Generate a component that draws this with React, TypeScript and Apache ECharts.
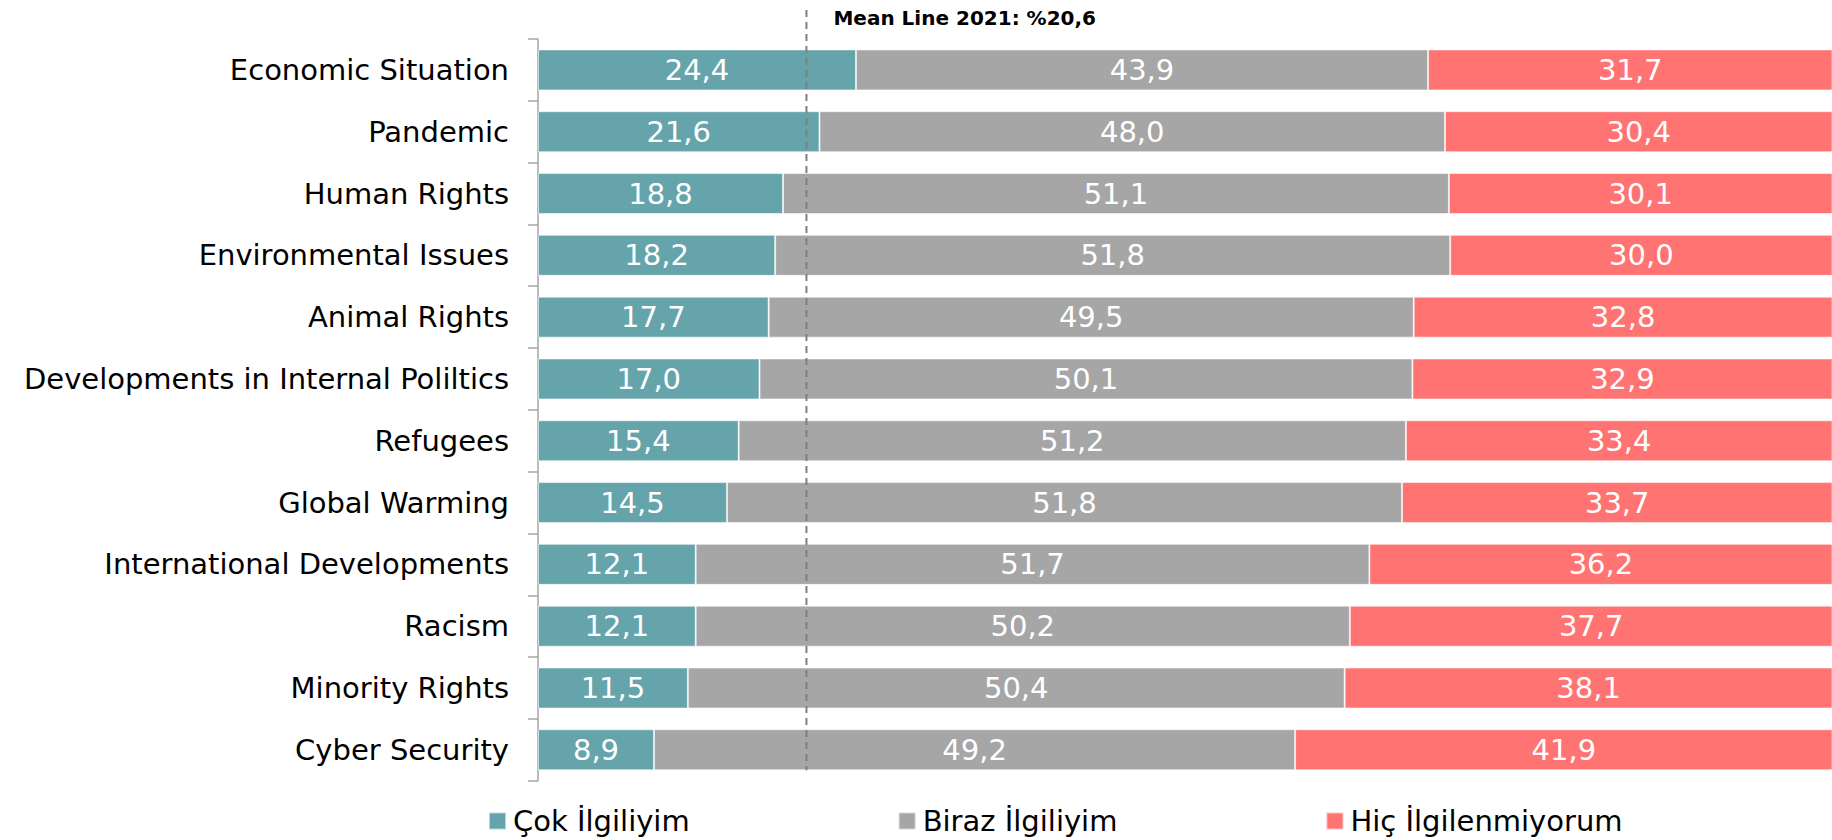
import React, { useEffect, useRef } from "react";
import * as echarts from "echarts";

const categories = [
  "Economic Situation",
  "Pandemic",
  "Human Rights",
  "Environmental Issues",
  "Animal Rights",
  "Developments in Internal Poliltics",
  "Refugees",
  "Global Warming",
  "International Developments",
  "Racism",
  "Minority Rights",
  "Cyber Security",
];

const seriesNames = ["Çok İlgiliyim", "Biraz İlgiliyim", "Hiç İlgilenmiyorum"];

const cokValues = [24.4, 21.6, 18.8, 18.2, 17.7, 17.0, 15.4, 14.5, 12.1, 12.1, 11.5, 8.9];
const birazValues = [43.9, 48.0, 51.1, 51.8, 49.5, 50.1, 51.2, 51.8, 51.7, 50.2, 50.4, 49.2];
const hicValues = [31.7, 30.4, 30.1, 30.0, 32.8, 32.9, 33.4, 33.7, 36.2, 37.7, 38.1, 41.9];

const axisMin = 0;
const axisMax = 99.3;

const meanValue = 20.6;
const meanLabel = "Mean Line 2021: %20,6";

const colors = ["#66A4AB", "#A6A6A6", "#FF7373"];
const FONT = "DejaVu Sans";

export default function App() {
  const ref = useRef<HTMLDivElement>(null);

  useEffect(() => {
    document.body.style.margin = "0";
    if (!ref.current) return;
    const chart = echarts.init(ref.current, null, { renderer: "svg" });
    const valuesList = [cokValues, birazValues, hicValues];
    const barW = 41;
    const option: any = {
      animation: false,
      textStyle: { fontFamily: FONT },
      grid: { left: 538, right: 0, top: 39, bottom: 59.3, containLabel: false },
      legend: {
        data: seriesNames,
        left: 488,
        top: 806,
        padding: 0,
        itemGap: 208,
        itemWidth: 17,
        itemHeight: 17,
        icon: "rect",
        textStyle: {
          fontFamily: FONT,
          fontSize: 29,
          color: "#000",
          lineHeight: 30,
          padding: [0, 0, 0, 2],
        },
      },
      xAxis: {
        type: "value",
        min: axisMin,
        max: axisMax,
        show: false,
        splitLine: { show: false },
      },
      yAxis: {
        type: "category",
        data: categories,
        inverse: true,
        axisLine: { show: true, lineStyle: { color: "#A6A6A6", width: 1.5 } },
        axisTick: { show: true, length: 10, lineStyle: { color: "#A6A6A6", width: 1.5 } },
        axisLabel: {
          fontFamily: FONT,
          fontSize: 29,
          color: "#000",
          margin: 29,
        },
      },
      series: seriesNames.map((name, i) => ({
        name,
        type: "bar",
        stack: "total",
        barWidth: barW,
        data: valuesList[i],
        itemStyle: {
          color: colors[i],
          borderColor: "rgba(255,255,255,0.55)",
          borderWidth: 1,
        },
        label: {
          show: true,
          position: "inside",
          color: "#fff",
          fontFamily: FONT,
          fontSize: 29,
          formatter: (p: any) => Number(p.value).toFixed(1).replace(".", ","),
        },
      })),
    };
    chart.setOption(option);

    const x = chart.convertToPixel({ xAxisIndex: 0 }, meanValue) as number;
    const yLast = chart.convertToPixel({ yAxisIndex: 0 }, categories[categories.length - 1]) as number;
    chart.setOption({
      graphic: [
        {
          type: "line",
          z: 100,
          shape: { x1: x, y1: 10, x2: x, y2: yLast + barW / 2 },
          style: { stroke: "#7F7F7F", lineWidth: 2, lineDash: [7, 5] },
        },
        {
          type: "text",
          z: 100,
          x: x + 27,
          y: 18,
          style: {
            text: meanLabel,
            fontFamily: FONT,
            fontWeight: "bold",
            fontSize: 20,
            fill: "#000",
            verticalAlign: "middle",
          },
        },
      ],
    });

    return () => chart.dispose();
  }, []);

  return <div ref={ref} style={{ width: 1832, height: 840 }} />;
}
